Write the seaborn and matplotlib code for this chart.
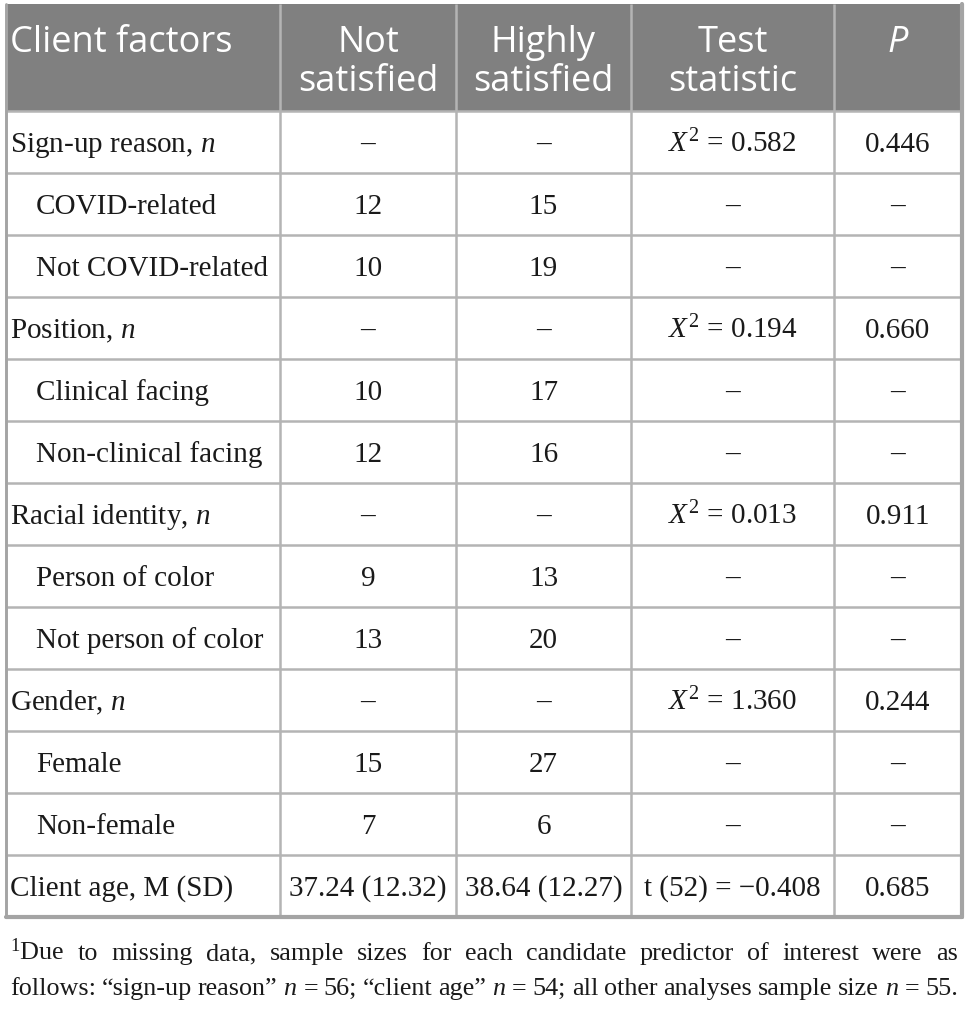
import matplotlib
matplotlib.use("Agg")
import matplotlib.pyplot as plt
import seaborn as sns
from matplotlib.patches import Rectangle

# table content
header = ["Client factors", "Not\nsatisfied", "Highly\nsatisfied", "Test\nstatistic", "P"]
factors = ["Sign-up reason, $n$", "COVID-related", "Not COVID-related",
           "Position, $n$", "Clinical facing", "Non-clinical facing",
           "Racial identity, $n$", "Person of color", "Not person of color",
           "Gender, $n$", "Female", "Non-female", "Client age, M (SD)"]
indented = [False, True, True, False, True, True, False, True, True,
            False, True, True, False]
not_satisfied = ["–", "12", "10", "–", "10", "12", "–", "9", "13",
                 "–", "15", "7", "37.24 (12.32)"]
highly_satisfied = ["–", "15", "19", "–", "17", "16", "–", "13", "20",
                    "–", "27", "6", "38.64 (12.27)"]
test_statistic = ["$X^2$ = 0.582", "–", "–", "$X^2$ = 0.194", "–", "–",
                  "$X^2$ = 0.013", "–", "–", "$X^2$ = 1.360", "–", "–",
                  "t (52) = −0.408"]
p_values = ["0.446", "–", "–", "0.660", "–", "–", "0.911", "–", "–",
            "0.244", "–", "–", "0.685"]
footnote = [
    "$^1$Due to missing data, sample sizes for each candidate predictor of interest were as",
    "follows: “sign-up reason” $n$ = 56; “client age” $n$ = 54; all other analyses sample size $n$ = 55.",
]

sns.set_theme(style="white")
plt.rcParams["font.family"] = ["Liberation Serif", "DejaVu Serif"]
plt.rcParams["mathtext.fontset"] = "custom"
plt.rcParams["mathtext.rm"] = "Liberation Serif"
plt.rcParams["mathtext.it"] = "Liberation Serif:italic"

W, H = 967, 1016
fig = plt.figure(figsize=(W / 100, H / 100), dpi=100)
ax = fig.add_axes([0, 0, 1, 1])
ax.set_xlim(0, W)
ax.set_ylim(H, 0)
ax.axis("off")

col_edges = [6, 280, 456, 631, 834, 962]
head_top, head_bot = 4, 111
row_h = 62
n_rows = len(factors)
table_bot = head_bot + n_rows * row_h
grid_col = "#b4b4b4"
body_size = 21

# header background
ax.add_patch(Rectangle((col_edges[0], head_top), col_edges[-1] - col_edges[0],
                       head_bot - head_top, facecolor="#808080", edgecolor="none"))

# grid
for x in col_edges:
    ax.plot([x, x], [head_top, table_bot], color=grid_col, lw=1.8, solid_capstyle="butt")
for i in range(n_rows + 1):
    y = head_bot + i * row_h
    ax.plot([col_edges[0], col_edges[-1]], [y, y], color=grid_col, lw=1.8)
ax.plot([col_edges[0], col_edges[-1]], [table_bot, table_bot], color="#a4a4a4", lw=3)
ax.plot([col_edges[-1], col_edges[-1]], [head_top, table_bot], color="#a4a4a4", lw=3)
ax.plot([col_edges[0], col_edges[0]], [head_top, table_bot], color="#a4a4a4", lw=2)

# header text
for j, lab in enumerate(header):
    lines = lab.split("\n")
    for k, line in enumerate(lines):
        if j == 0:
            x, ha = col_edges[0] + 4, "left"
        else:
            x, ha = (col_edges[j] + col_edges[j + 1]) / 2, "center"
        ax.text(x, 52 + k * 39, line, ha=ha, va="baseline", color="white",
                fontsize=26, family="Open Sans",
                style="italic" if lab == "P" else "normal")

# body text
centers = [(col_edges[j] + col_edges[j + 1]) / 2 for j in range(1, 5)]
for i in range(n_rows):
    yb = head_bot + (i + 0.5) * row_h + 10
    x0 = col_edges[0] + (30 if indented[i] else 4)
    ax.text(x0, yb, factors[i], ha="left", va="baseline", fontsize=body_size, color="#1a1a1a")
    for xc, col in zip(centers, [not_satisfied, highly_satisfied, test_statistic, p_values]):
        ax.text(xc, yb, col[i], ha="center", va="baseline", fontsize=body_size, color="#1a1a1a")

# footnote, justified across the table width
fig.canvas.draw()
renderer = fig.canvas.get_renderer()
inv = ax.transData.inverted()
left, right = 10, 958
for k, line in enumerate(footnote):
    words = line.split(" ")
    yb = 960 + k * 35
    arts = [ax.text(0, yb, w, ha="left", va="baseline", fontsize=18.8, color="#1a1a1a")
            for w in words]
    widths = []
    for a in arts:
        bb = a.get_window_extent(renderer)
        p0 = inv.transform((bb.x0, bb.y0))
        p1 = inv.transform((bb.x1, bb.y0))
        widths.append(p1[0] - p0[0])
    gap = (right - left - sum(widths)) / (len(words) - 1)
    x = left
    for a, w in zip(arts, widths):
        a.set_x(x)
        x += w + gap

fig.savefig("out.png", dpi=100)
